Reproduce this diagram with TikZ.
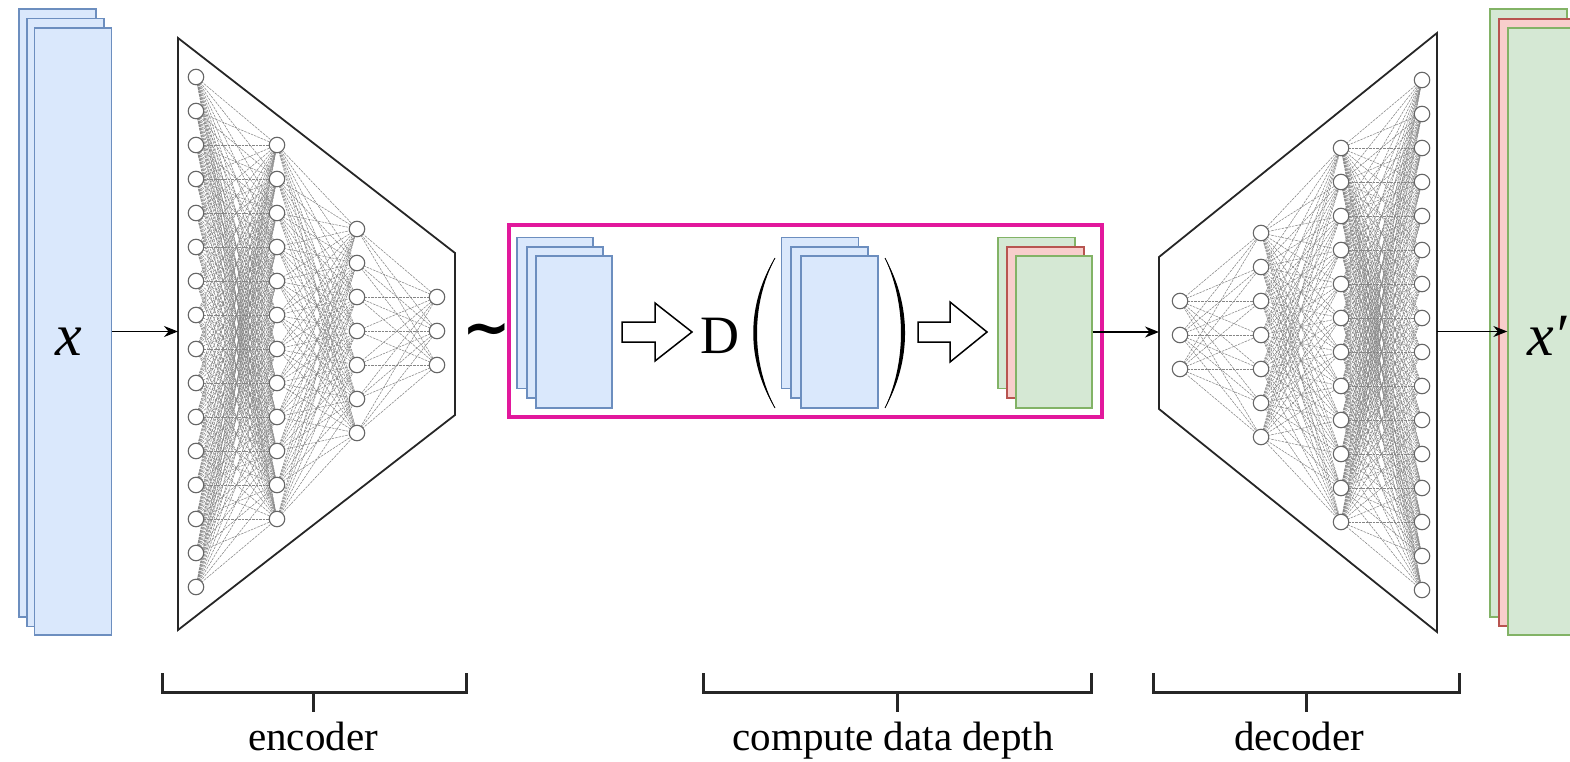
\RequirePackage{fix-cm}
\documentclass[tikz,border=0pt]{standalone}
\usepackage{fontspec}
\setmainfont{Liberation Serif}
\newfontfamily\symfont{DejaVu Sans}
\usetikzlibrary{arrows.meta}
\definecolor{bluefill}{HTML}{DAE8FC}
\definecolor{bluedraw}{HTML}{6C8EBF}
\definecolor{greenfill}{HTML}{D5E8D4}
\definecolor{greendraw}{HTML}{82B366}
\definecolor{redfill}{HTML}{F8CECC}
\definecolor{reddraw}{HTML}{B85450}
\definecolor{magentabox}{RGB}{226,24,156}
\begin{document}
\begin{tikzpicture}[x=1pt,y=-1pt,
  sheet/.style={draw, line width=1.3pt, inner sep=0pt, minimum width=77pt},
  bluesheet/.style={sheet, fill=bluefill, draw=bluedraw},
  greensheet/.style={sheet, fill=greenfill, draw=greendraw},
  redsheet/.style={sheet, fill=redfill, draw=reddraw},
  neuron/.style={circle, draw=black!60, fill=white, line width=1.1pt, inner sep=0pt, minimum size=15.5pt},
  synapse/.style={draw=black!48, line width=0.55pt, dash pattern=on 2.5pt off 1pt},
  funnel/.style={draw=black!85, line width=1.8pt, line join=miter},
  link/.style={draw=black, line width=1.5pt, -{Stealth[length=14pt,width=11pt]}},
  brk/.style={draw=black!85, line width=3pt},
  bracetext/.style={font=\fontsize{41}{48}\selectfont, anchor=base, inner sep=0pt},
  hollow/.style={draw=black, fill=white, line width=1.5pt, line join=miter},
  varname/.style={font=\itshape\fontsize{60}{66}\selectfont, inner sep=0pt, anchor=base west}
]
\useasboundingbox (0,0) rectangle (1570,762);
\clip (0,0) rectangle (1570,762);

% ---------- input stack ----------
\node[bluesheet, minimum height=608pt] (L1) at (57.5,313) {};
\node[bluesheet, minimum height=608pt] (L2) at (65.5,322.5) {};
\node[bluesheet, minimum height=607pt] (L3) at (73,331.5) {};
\node[varname] (xin) at (55,355) {x};

% ---------- encoder ----------
\draw[funnel] (178,38) -- (455,253) -- (455,415) -- (178,630) -- cycle;
\foreach \i in {1,...,16} \coordinate (e1-\i) at (196,{77+34*(\i-1)});
\foreach \i in {1,...,12} \coordinate (e2-\i) at (277,{145+34*(\i-1)});
\foreach \i in {1,...,7}  \coordinate (e3-\i) at (357,{229+34*(\i-1)});
\foreach \i in {1,...,3}  \coordinate (e4-\i) at (437,{297+34*(\i-1)});
\foreach \i in {1,...,16} \foreach \j in {1,...,12} \draw[synapse] (e1-\i) -- (e2-\j);
\foreach \i in {1,...,12} \foreach \j in {1,...,7} \draw[synapse] (e2-\i) -- (e3-\j);
\foreach \i in {1,...,7} \foreach \j in {1,...,3} \draw[synapse] (e3-\i) -- (e4-\j);
\foreach \i in {1,...,16} \node[neuron] (ne1-\i) at (e1-\i) {};
\foreach \i in {1,...,12} \node[neuron] (ne2-\i) at (e2-\i) {};
\foreach \i in {1,...,7}  \node[neuron] (ne3-\i) at (e3-\i) {};
\foreach \i in {1,...,3}  \node[neuron] (ne4-\i) at (e4-\i) {};
\coordinate (enc-in) at (178,331.5);
\draw[link] (L3.east) -- (enc-in);

\node[font=\symfont\bfseries\fontsize{58}{66}\selectfont, inner sep=0pt] (tilde) at (486.5,335) {∼};

% ---------- data depth box ----------
\node[draw=magentabox, line width=4pt, inner sep=0pt, minimum width=593pt, minimum height=192pt] (depthbox) at (805.5,321) {};

\node[bluesheet, minimum width=76pt, minimum height=151pt] (A1) at (555,313) {};
\node[bluesheet, minimum width=76pt, minimum height=151pt] (A2) at (565,322.5) {};
\node[bluesheet, minimum width=76pt, minimum height=152pt] (A3) at (574,332) {};

\draw[hollow] (622,322) -- (655,322) -- (655,303) -- (692,332) -- (655,361) -- (655,342) -- (622,342) -- cycle;

\node[font=\fontsize{54}{60}\selectfont, anchor=base, inner sep=0pt] (D) at (720,353) {D};

\fill[black] (775,258) .. controls (746,305) and (746,361) .. (775,408) .. controls (751,361) and (751,305) .. (775,258) -- cycle;
\draw[black, line width=0.8pt] (775,258) .. controls (748.5,305) and (748.5,361) .. (775,408);

\node[bluesheet, minimum height=151pt] (B1) at (820,313) {};
\node[bluesheet, minimum height=151pt] (B2) at (829.5,322.5) {};
\node[bluesheet, minimum height=152pt] (B3) at (839.5,332) {};

\fill[black] (885,258) .. controls (911.7,305) and (911.7,361) .. (885,408) .. controls (906.3,361) and (906.3,305) .. (885,258) -- cycle;
\draw[black, line width=0.8pt] (885,258) .. controls (909,305) and (909,361) .. (885,408);

\draw[hollow] (918,322) -- (950,322) -- (950,302) -- (987,332) -- (950,362) -- (950,342) -- (918,342) -- cycle;

\node[greensheet, minimum height=151pt] (C1) at (1036.5,313) {};
\node[redsheet, minimum height=151pt] (C2) at (1045.5,322.5) {};
\node[greensheet, minimum width=76pt, minimum height=152pt] (C3) at (1054,332) {};

\coordinate (dec-in) at (1159,332);
\draw[link] (C3.east) -- (dec-in);

% ---------- decoder ----------
\draw[funnel] (1159,257) -- (1437,33) -- (1437,632) -- (1159,409) -- cycle;
\foreach \i in {1,...,3}  \coordinate (d1-\i) at (1180,{301+34*(\i-1)});
\foreach \i in {1,...,7}  \coordinate (d2-\i) at (1261,{233+34*(\i-1)});
\foreach \i in {1,...,12} \coordinate (d3-\i) at (1341,{148+34*(\i-1)});
\foreach \i in {1,...,16} \coordinate (d4-\i) at (1422,{80+34*(\i-1)});
\foreach \i in {1,...,3} \foreach \j in {1,...,7} \draw[synapse] (d1-\i) -- (d2-\j);
\foreach \i in {1,...,7} \foreach \j in {1,...,12} \draw[synapse] (d2-\i) -- (d3-\j);
\foreach \i in {1,...,12} \foreach \j in {1,...,16} \draw[synapse] (d3-\i) -- (d4-\j);
\foreach \i in {1,...,3}  \node[neuron] (nd1-\i) at (d1-\i) {};
\foreach \i in {1,...,7}  \node[neuron] (nd2-\i) at (d2-\i) {};
\foreach \i in {1,...,12} \node[neuron] (nd3-\i) at (d3-\i) {};
\foreach \i in {1,...,16} \node[neuron] (nd4-\i) at (d4-\i) {};

% ---------- output stack ----------
\node[greensheet, minimum height=608pt] (R1) at (1528.5,313) {};
\node[redsheet, minimum height=607pt] (R2) at (1537.5,322.5) {};
\node[greensheet, minimum height=607pt] (R3) at (1546.5,331.5) {};
\node[varname] (xout) at (1527,355) {x′};

\coordinate (dec-out) at (1437,331.5);
\draw[link] (dec-out) -- (R3.west);

% ---------- brackets ----------
\draw[brk] (162,673) -- (162,692) -- (466,692) -- (466,673);
\draw[brk] (313,692) -- (313,712);
\node[bracetext] (enc-label) at (313,750) {encoder};

\draw[brk] (703,673) -- (703,692) -- (1091,692) -- (1091,673);
\draw[brk] (897,692) -- (897,712);
\node[bracetext] (cdd-label) at (893,750) {compute data depth};

\draw[brk] (1153,673) -- (1153,692) -- (1459,692) -- (1459,673);
\draw[brk] (1306,692) -- (1306,712);
\node[bracetext] (dec-label) at (1299,750) {decoder};
\end{tikzpicture}
\end{document}
